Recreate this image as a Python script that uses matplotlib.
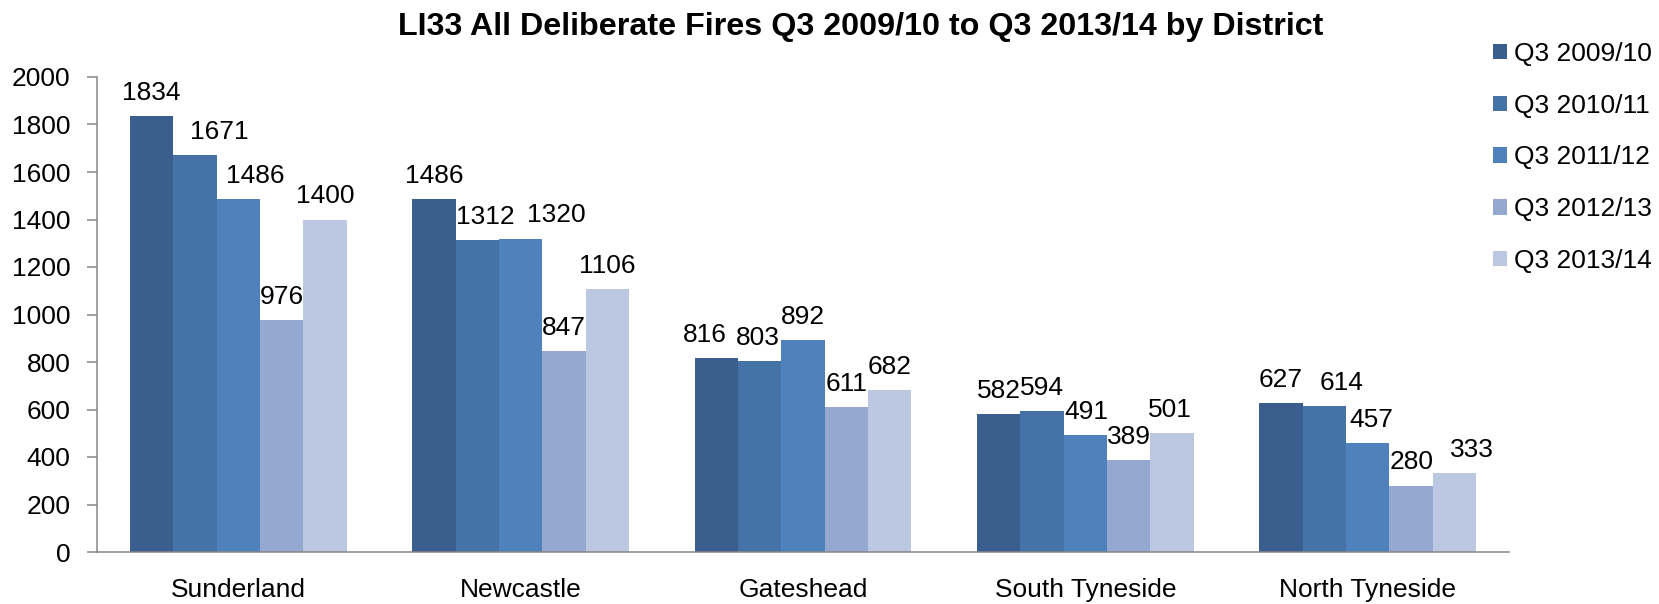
import matplotlib
matplotlib.use("Agg")
import matplotlib.pyplot as plt
import numpy as np

districts = ["Sunderland", "Newcastle", "Gateshead", "South Tyneside", "North Tyneside"]
series_names = ["Q3 2009/10", "Q3 2010/11", "Q3 2011/12", "Q3 2012/13", "Q3 2013/14"]
q3_2009_10 = [1834, 1486, 816, 582, 627]
q3_2010_11 = [1671, 1312, 803, 594, 614]
q3_2011_12 = [1486, 1320, 892, 491, 457]
q3_2012_13 = [976, 847, 611, 389, 280]
q3_2013_14 = [1400, 1106, 682, 501, 333]
series_values = [q3_2009_10, q3_2010_11, q3_2011_12, q3_2012_13, q3_2013_14]
yticks = [0, 200, 400, 600, 800, 1000, 1200, 1400, 1600, 1800, 2000]

colors = ["#3A5F8E", "#4573A7", "#4F81BD", "#95A9D0", "#BCC8E1"]
# horizontal nudges of data labels (pixels), per series per district
label_dx = [
    [0, 0, -11, 0, 0],
    [24, 8, -2, 0, 17],
    [17, 36, 0, 1, 4],
    [0, 0, 0, 0, 0],
    [0, 0, 0, -2, 17],
]

plt.rcParams['font.family'] = ['Liberation Sans', 'DejaVu Sans']

fig = plt.figure(figsize=(16.59, 6.04), dpi=100)
ax = fig.add_axes([97/1659, 1-552/604, (1509-97)/1659, (552-77)/604])

n = len(series_names)
bw = 0.1536
x = np.arange(len(districts))
bars_all = []
for j, (name, vals) in enumerate(zip(series_names, series_values)):
    pos = x + (j - (n-1)/2) * bw
    bars = ax.bar(pos, vals, width=bw, color=colors[j], label=name, linewidth=0)
    bars_all.append(bars)
    for i, (p, v) in enumerate(zip(pos, vals)):
        ax.annotate(str(v), xy=(p, v), xytext=(label_dx[j][i]*0.72, 8),
                    textcoords="offset points", ha="center", va="bottom",
                    fontsize=19, color="black")

ax.set_xlim(-0.5, len(districts)-0.5)
ax.set_ylim(0, 2000)
ax.set_yticks(yticks)
ax.set_yticklabels([str(t) for t in yticks], fontsize=19)
ax.set_xticks(x)
ax.set_xticklabels(districts, fontsize=19)
ax.tick_params(axis='x', length=0, pad=19)
ax.tick_params(axis='y', length=7.2, width=1.1, color="#868686", pad=12)
for s in ["top", "right"]:
    ax.spines[s].set_visible(False)
for s in ["left", "bottom"]:
    ax.spines[s].set_color("#868686")
    ax.spines[s].set_linewidth(1.1)

fig.text(860.5/1659, 1-27/604, "LI33 All Deliberate Fires Q3 2009/10 to Q3 2013/14 by District",
         ha="center", va="center", fontsize=23.2, fontweight="bold")

fig.legend(handles=bars_all, labels=series_names, loc="upper left",
           bbox_to_anchor=(1493/1659, 1-42/604), frameon=False, fontsize=19,
           handlelength=0.53, handleheight=0.53, handletextpad=0.25,
           labelspacing=1.05, borderpad=0, borderaxespad=0)

fig.savefig("out.png", dpi=100, facecolor="white")
